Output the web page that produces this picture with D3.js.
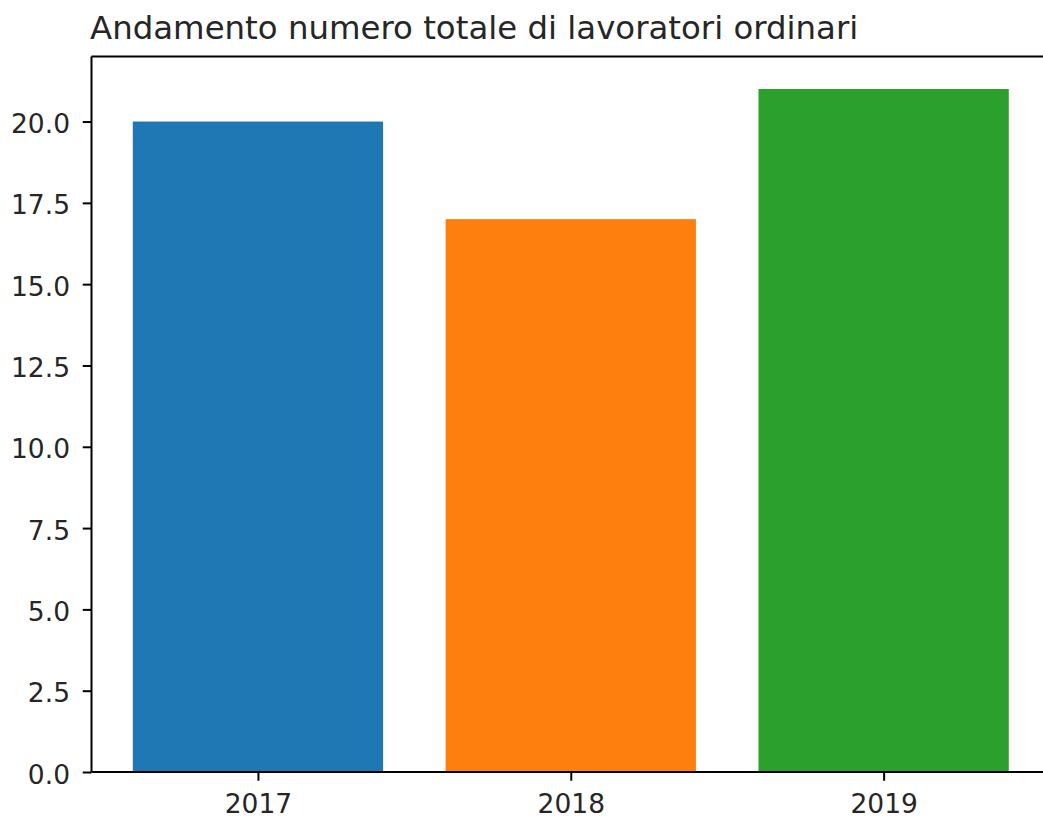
<!DOCTYPE html>
<html>
<head>
<meta charset="utf-8">
<script src="https://cdn.jsdelivr.net/npm/d3@7"></script>
<style>
  body { margin: 0; background: #fff; }
  svg { display: block; font-family: "DejaVu Sans", sans-serif; }
</style>
</head>
<body>
<div id="chart"></div>
<script>
// data
var years = ["2017", "2018", "2019"];
var workers = [20, 17, 21];
var barColors = ["#1f77b4", "#ff7f0e", "#2ca02c"];
var yTicks = [0, 2.5, 5, 7.5, 10, 12.5, 15, 17.5, 20];

var width = 1043, height = 816;
// note: "top" is taken by window.top, so plot edges get their own names
var plotLeft = 91.5, plotTop = 56.5, plotBottom = 772;
var tickFont = 26.5;

var svg = d3.select("#chart").append("svg")
  .attr("width", width)
  .attr("height", height);

// index-based x like matplotlib's categorical bar
var x = d3.scaleLinear()
  .domain([-0.532, years.length - 1 + 0.532])
  .range([plotLeft, plotLeft + 3.064 * 312.85]);

var y = d3.scaleLinear()
  .domain([0, 22])
  .range([plotBottom, plotTop]);

var barW = x(0.4) - x(-0.4);

svg.append("g").selectAll("rect")
  .data(workers)
  .enter().append("rect")
  .attr("x", function (d, i) { return x(i) - barW / 2; })
  .attr("y", function (d) { return y(d); })
  .attr("width", barW)
  .attr("height", function (d) { return y(0) - y(d); })
  .attr("fill", function (d, i) { return barColors[i]; });

// axes
var xAxis = d3.axisBottom(x)
  .tickValues(d3.range(years.length))
  .tickFormat(function (i) { return years[i]; })
  .tickSize(8.75)
  .tickPadding(13.4)
  .tickSizeOuter(0);

var yAxis = d3.axisLeft(y)
  .tickValues(yTicks)
  .tickFormat(d3.format(".1f"))
  .tickSize(8.75)
  .tickPadding(12.75)
  .tickSizeOuter(0);

var gx = svg.append("g")
  .attr("transform", "translate(0," + plotBottom + ")")
  .call(xAxis);

var gy = svg.append("g")
  .attr("transform", "translate(" + plotLeft + ",0)")
  .call(yAxis);

[gx, gy].forEach(function (g) {
  g.select(".domain").remove();
  g.selectAll("line").attr("stroke", "#000").attr("stroke-width", 2);
  g.selectAll("text")
    .attr("fill", "#262626")
    .style("font-size", tickFont + "px")
    .style("font-family", "DejaVu Sans");
});
gy.selectAll("text").attr("dy", "0.42em");

// spines (right one falls outside the canvas)
var spine = svg.append("g")
  .attr("stroke", "#000")
  .attr("stroke-width", 2)
  .attr("fill", "none");
spine.append("line").attr("x1", plotLeft).attr("x2", plotLeft).attr("y1", plotTop).attr("y2", plotBottom);
spine.append("line").attr("x1", plotLeft).attr("x2", width).attr("y1", plotTop).attr("y2", plotTop);
spine.append("line").attr("x1", plotLeft).attr("x2", width).attr("y1", plotBottom).attr("y2", plotBottom);

svg.append("text")
  .attr("x", plotLeft - 1.5)
  .attr("y", 38.5)
  .attr("fill", "#262626")
  .style("font-size", "32.4px")
  .text("Andamento numero totale di lavoratori ordinari");
</script>
</body>
</html>
